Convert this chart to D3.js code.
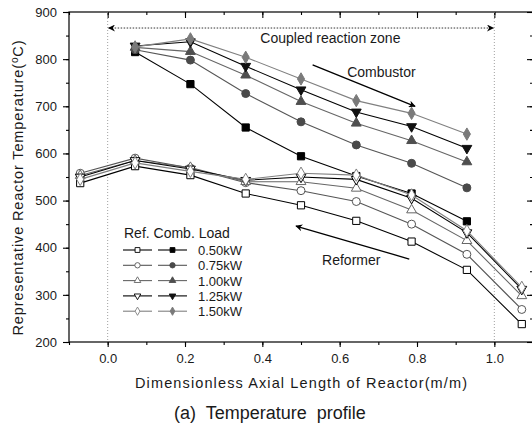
<!DOCTYPE html>
<html>
<head>
<meta charset="utf-8">
<script src="https://cdn.jsdelivr.net/npm/d3@7"></script>
<style>
  body { margin: 0; background: #fff; }
  svg { display: block; font-family: "Liberation Sans", Arial, sans-serif; }
  text { fill: #1a1a1a; }
</style>
</head>
<body>
<div class="chart"></div>
<script>
// axial positions (dimensionless)
const reformerX = [-0.071, 0.071, 0.214, 0.357, 0.5, 0.643, 0.786, 0.929, 1.071];
const combustorX = [0.071, 0.214, 0.357, 0.5, 0.643, 0.786, 0.929];

const loads = ["0.50kW", "0.75kW", "1.00kW", "1.25kW", "1.50kW"];

// reformer temperatures (open markers)
const ref050 = [537, 573, 554, 515, 490, 457, 413, 353, 238];
const ref075 = [558, 590, 569, 538, 521, 498, 450, 386, 269];
const ref100 = [553, 585, 570, 540, 540, 526, 480, 415, 298];
const ref125 = [550, 585, 567, 543, 550, 545, 505, 432, 312];
const ref150 = [545, 580, 562, 545, 558, 554, 512, 436, 316];

// combustor temperatures (filled markers)
const comb050 = [815, 747, 655, 594, 552, 515, 456];
const comb075 = [820, 798, 727, 667, 618, 579, 527];
const comb100 = [825, 816, 766, 710, 664, 627, 582];
const comb125 = [828, 837, 785, 735, 688, 657, 611];
const comb150 = [826, 843, 804, 758, 712, 685, 641];

const xTicks = [0.0, 0.2, 0.4, 0.6, 0.8, 1.0];
const yTicks = [200, 300, 400, 500, 600, 700, 800, 900];

const reformer = [ref050, ref075, ref100, ref125, ref150];
const combustor = [comb050, comb075, comb100, comb125, comb150];

const lineColors = ["#000", "#555", "#666", "#000", "#808080"];
const fillColors = ["#000", "#4a4a4a", "#4f4f4f", "#111", "#7a7a7a"];
const shapes = [d3.symbolSquare, d3.symbolCircle, d3.symbolTriangle, d3.symbolTriangle, d3.symbolDiamond];
const sizes = [52, 50, 42, 42, 44];
const rotate = [0, 0, 0, 180, 0];

const W = 532, H = 428;
const mLeft = 69, mTop = 12, mRight = 533, mBottom = 342;

const svg = d3.select(".chart").append("svg")
  .attr("width", W).attr("height", H);

const x = d3.scaleLinear().domain([-0.1, 1.1]).range([mLeft, mRight]);
const y = d3.scaleLinear().domain([200, 900]).range([mBottom, mTop]);

const minorX = d3.range(-0.1, 1.11, 0.1).map(v => +v.toFixed(2));
const minorY = d3.range(200, 901, 50);

// frame
svg.append("rect")
  .attr("x", mLeft).attr("y", mTop)
  .attr("width", mRight - mLeft).attr("height", mBottom - mTop)
  .attr("fill", "none").attr("stroke", "#000").attr("stroke-width", 1.2);

// axes
function styleAxis(g) {
  g.select(".domain").remove();
  g.selectAll("line").attr("stroke", "#000").attr("stroke-width", 1.1);
  g.selectAll("text").attr("font-size", 13).attr("fill", "#1a1a1a")
    .attr("font-family", "Liberation Sans, Arial, sans-serif");
}

svg.append("g").attr("transform", `translate(0,${mBottom})`)
  .call(d3.axisBottom(x).tickValues(minorX).tickSize(3).tickFormat(""))
  .call(styleAxis);
svg.append("g").attr("transform", `translate(0,${mBottom})`)
  .call(d3.axisBottom(x).tickValues(xTicks).tickSize(5).tickPadding(7).tickFormat(d3.format(".1f")))
  .call(styleAxis);

svg.append("g").attr("transform", `translate(0,${mTop})`)
  .call(d3.axisBottom(x).tickValues(minorX).tickSize(3).tickFormat(""))
  .call(styleAxis);
svg.append("g").attr("transform", `translate(0,${mTop})`)
  .call(d3.axisBottom(x).tickValues(xTicks).tickSize(6).tickFormat(""))
  .call(styleAxis);

svg.append("g").attr("transform", `translate(${mLeft},0)`)
  .call(d3.axisLeft(y).tickValues(minorY).tickSize(3).tickFormat(""))
  .call(styleAxis);
svg.append("g").attr("transform", `translate(${mLeft},0)`)
  .call(d3.axisLeft(y).tickValues(yTicks).tickSize(6).tickPadding(6).tickFormat(d3.format("d")))
  .call(styleAxis);

svg.append("g").attr("transform", `translate(${mRight},0)`)
  .call(d3.axisLeft(y).tickValues(minorY).tickSize(3).tickFormat(""))
  .call(styleAxis);
svg.append("g").attr("transform", `translate(${mRight},0)`)
  .call(d3.axisLeft(y).tickValues(yTicks).tickSize(6).tickFormat(""))
  .call(styleAxis);

// axis titles
svg.append("text")
  .attr("x", 301).attr("y", 388)
  .attr("text-anchor", "middle").attr("font-size", 14.5)
  .attr("textLength", 332).attr("lengthAdjust", "spacing")
  .text("Dimensionless Axial Length of Reactor(m/m)");

const yt = svg.append("text")
  .attr("transform", "translate(23,188) rotate(-90)")
  .attr("text-anchor", "middle").attr("font-size", 14.5)
  .attr("textLength", 295).attr("lengthAdjust", "spacing");
yt.append("tspan").text("Representative Reactor Temperature(");
yt.append("tspan").attr("font-size", 10).attr("dy", -5).text("o");
yt.append("tspan").attr("dy", 5).text("C)");

svg.append("text")
  .attr("x", 270).attr("y", 419)
  .attr("text-anchor", "middle").attr("font-size", 18)
  .style("white-space", "pre")
  .text("(a)  Temperature  profile");

// defs for arrowheads
const defs = svg.append("defs");
defs.append("marker").attr("id", "head")
  .attr("viewBox", "0 0 10 10").attr("refX", 9).attr("refY", 5)
  .attr("markerWidth", 11).attr("markerHeight", 7)
  .attr("markerUnits", "userSpaceOnUse")
  .attr("orient", "auto-start-reverse")
  .append("path").attr("d", "M0,0 L10,5 L0,10 L3,5 Z").attr("fill", "#000");

// coupled reaction zone guides
[0, 1].forEach(v => {
  svg.append("line")
    .attr("x1", x(v)).attr("x2", x(v)).attr("y1", mTop).attr("y2", mBottom)
    .attr("stroke", "#888").attr("stroke-width", 0.8).attr("stroke-dasharray", "1,2");
});
svg.append("line")
  .attr("x1", x(0) + 1).attr("x2", x(1) - 1).attr("y1", y(866)).attr("y2", y(866))
  .attr("stroke", "#333").attr("stroke-width", 1).attr("stroke-dasharray", "1.5,1.5")
  .attr("marker-start", "url(#head)").attr("marker-end", "url(#head)");
svg.append("text")
  .attr("x", x(0.576)).attr("y", y(845) + 5)
  .attr("text-anchor", "middle").attr("font-size", 14)
  .text("Coupled reaction zone");

// annotation arrows
svg.append("line")
  .attr("x1", x(0.53)).attr("y1", y(788)).attr("x2", x(0.795)).attr("y2", y(700))
  .attr("stroke", "#000").attr("stroke-width", 1.3).attr("marker-end", "url(#head)");
svg.append("text")
  .attr("x", x(0.708)).attr("y", y(773) + 5)
  .attr("text-anchor", "middle").attr("font-size", 14)
  .text("Combustor");

svg.append("line")
  .attr("x1", x(0.78)).attr("y1", y(376)).attr("x2", x(0.487)).attr("y2", y(446))
  .attr("stroke", "#000").attr("stroke-width", 1.3).attr("marker-end", "url(#head)");
svg.append("text")
  .attr("x", x(0.63)).attr("y", y(374) + 5)
  .attr("text-anchor", "middle").attr("font-size", 14)
  .text("Reformer");

const line = d3.line().x(d => x(d[0])).y(d => y(d[1]));

function drawSeries(xs, vals, i, filled) {
  const pts = xs.map((v, j) => [v, vals[j]]);
  const g = svg.append("g");
  g.append("path").attr("d", line(pts))
    .attr("fill", "none").attr("stroke", lineColors[i]).attr("stroke-width", 1.1);
  g.selectAll("path.m").data(pts).enter().append("path")
    .attr("class", "m")
    .attr("d", d3.symbol().type(shapes[i]).size(sizes[i]))
    .attr("transform", d => `translate(${x(d[0])},${y(d[1])}) rotate(${rotate[i]})`)
    .attr("fill", filled ? fillColors[i] : "#fff")
    .attr("stroke", filled ? fillColors[i] : lineColors[i])
    .attr("stroke-width", 1);
}

combustor.forEach((vals, i) => drawSeries(combustorX, vals, i, true));
reformer.forEach((vals, i) => drawSeries(reformerX, vals, i, false));

// legend
const lg = svg.append("g");
lg.append("text").attr("x", 124).attr("y", 238).attr("font-size", 14).text("Ref. Comb. Load");
loads.forEach((name, i) => {
  const ry = 250 + i * 15.3;
  [[123, 152, false], [158, 187, true]].forEach(([a, b, filled]) => {
    lg.append("line").attr("x1", a).attr("x2", b).attr("y1", ry).attr("y2", ry)
      .attr("stroke", lineColors[i]).attr("stroke-width", 1.1);
    lg.append("path")
      .attr("d", d3.symbol().type(shapes[i]).size(sizes[i] * 0.45))
      .attr("transform", `translate(${(a + b) / 2},${ry}) rotate(${rotate[i]})`)
      .attr("fill", filled ? fillColors[i] : "#fff")
      .attr("stroke", filled ? fillColors[i] : lineColors[i]).attr("stroke-width", 0.9);
  });
  lg.append("text").attr("x", 198).attr("y", ry + 5).attr("font-size", 13).text(name);
});
</script>
</body>
</html>
